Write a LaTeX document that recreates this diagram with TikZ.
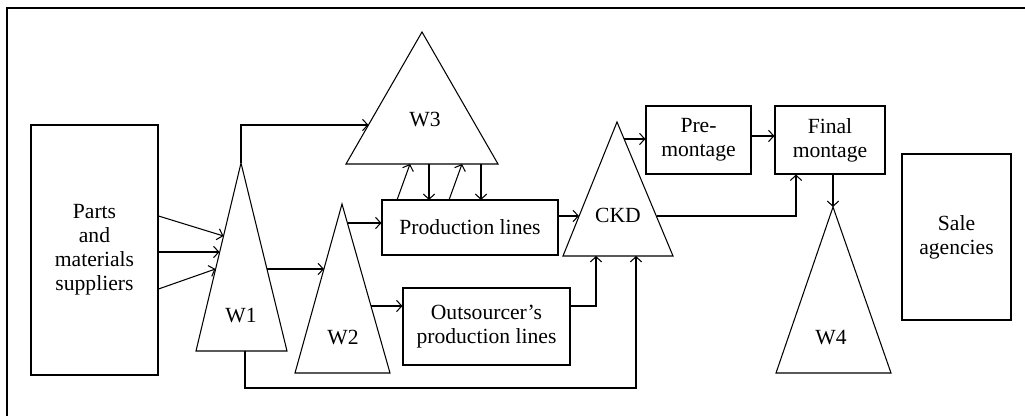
\documentclass[tikz,border=0pt]{standalone}
\usepackage{fontspec}
\setmainfont{Liberation Serif}
\usetikzlibrary{arrows.meta, positioning}

\begin{document}
\begin{tikzpicture}[
    line width=0.6pt,
    font=\fontsize{12.3}{13.6}\selectfont,
    box/.style={draw, align=center, inner sep=2pt},
    arr/.style={-{Straight Barb[length=3pt, width=6.5pt]}}
]
\useasboundingbox (0,0) rectangle (20.5,8.32);
\draw (0.14,0) -- (0.14,8.16) -- (20.5,8.16);

% boxes
\node[box, minimum width=2.54cm, minimum height=5cm] (parts) at (1.89,3.32) {Parts\\and\\materials\\suppliers};
\node[box, minimum width=3.52cm, minimum height=1.1cm] (prod) at (9.40,3.77) {Production lines};
\node[box, minimum width=3.34cm, minimum height=1.54cm] (outs) at (9.73,1.79) {Outsourcer’s\\production lines};
\node[box, minimum width=2.1cm, minimum height=1.36cm] (pre) at (13.97,5.52) {Pre-\\montage};
\node[box, minimum width=2.2cm, minimum height=1.36cm] (final) at (16.60,5.52) {Final\\montage};
\node[box, minimum width=2.18cm, minimum height=3.32cm] (sale) at (19.13,3.58) {Sale\\agencies};

% warehouses
\draw (4.82,5.06) coordinate (w1t) -- (5.74,1.30) -- (3.92,1.30) -- cycle;
\node (w1) at (4.82,2.0) {W1};
\draw (6.84,4.24) coordinate (w2t) -- (7.80,0.86) -- (5.90,0.86) -- cycle;
\node (w2) at (6.86,1.56) {W2};
\draw (8.44,7.68) -- (9.96,5.04) -- (6.92,5.04) -- cycle;
\node (w3) at (8.50,5.92) {W3};
\draw (12.34,5.88) -- (13.46,3.20) -- (11.26,3.20) -- cycle;
\node (ckd) at (12.36,4.02) {CKD};
\draw (16.66,4.18) coordinate (w4t) -- (17.82,0.86) -- (15.52,0.86) -- cycle;
\node (w4) at (16.62,1.56) {W4};

% points on the triangle sides
\coordinate (w1in1) at (4.47,3.60);
\coordinate (w1in2) at (4.39,3.28);
\coordinate (w1in3) at (4.31,2.94);
\coordinate (w1out) at (5.34,2.94);
\coordinate (w1base) at (4.90,1.30);
\coordinate (w2in) at (6.48,2.94);
\coordinate (w2out1) at (6.95,3.86);
\coordinate (w2out2) at (7.42,2.20);
\coordinate (w3in) at (7.37,5.82);
\coordinate (ckdin1) at (11.58,4.00);
\coordinate (ckdout1) at (12.48,5.54);
\coordinate (ckdout2) at (13.13,4.00);

% flows
\draw[arr] (parts.east |- 0,4.00) -- (w1in1);
\draw[arr] (parts.east |- w1in2) -- (w1in2);
\draw[arr] (parts.east |- 0,2.54) -- (w1in3);
\draw[arr] (w1t) |- (w3in);
\draw[arr] (w1out) -- (w2in);
\draw[arr] (w2out1) -- (prod.west |- w2out1);
\draw[arr] (w2out2) -- (outs.west |- w2out2);
\draw[arr] (w1base) -- (4.90,0.56) -| (12.72,3.20);
\draw[arr] (7.94,4.32) -- (8.20,5.04);
\draw[arr] (8.58,5.04) -- (8.58,4.32);
\draw[arr] (8.98,4.32) -- (9.24,5.04);
\draw[arr] (9.62,5.04) -- (9.62,4.32);
\draw[arr] (prod.east |- ckdin1) -- (ckdin1);
\draw[arr] (outs.east |- 0,2.20) -| (11.92,3.20);
\draw[arr] (ckdout1) -- (pre.west |- ckdout1);
\draw[arr] (pre.east |- 0,5.60) -- (final.west |- 0,5.60);
\draw[arr] (ckdout2) -| (final.south -| 15.92,0);
\draw[arr] (final.south -| w4t) -- (w4t);

\end{tikzpicture}
\end{document}
